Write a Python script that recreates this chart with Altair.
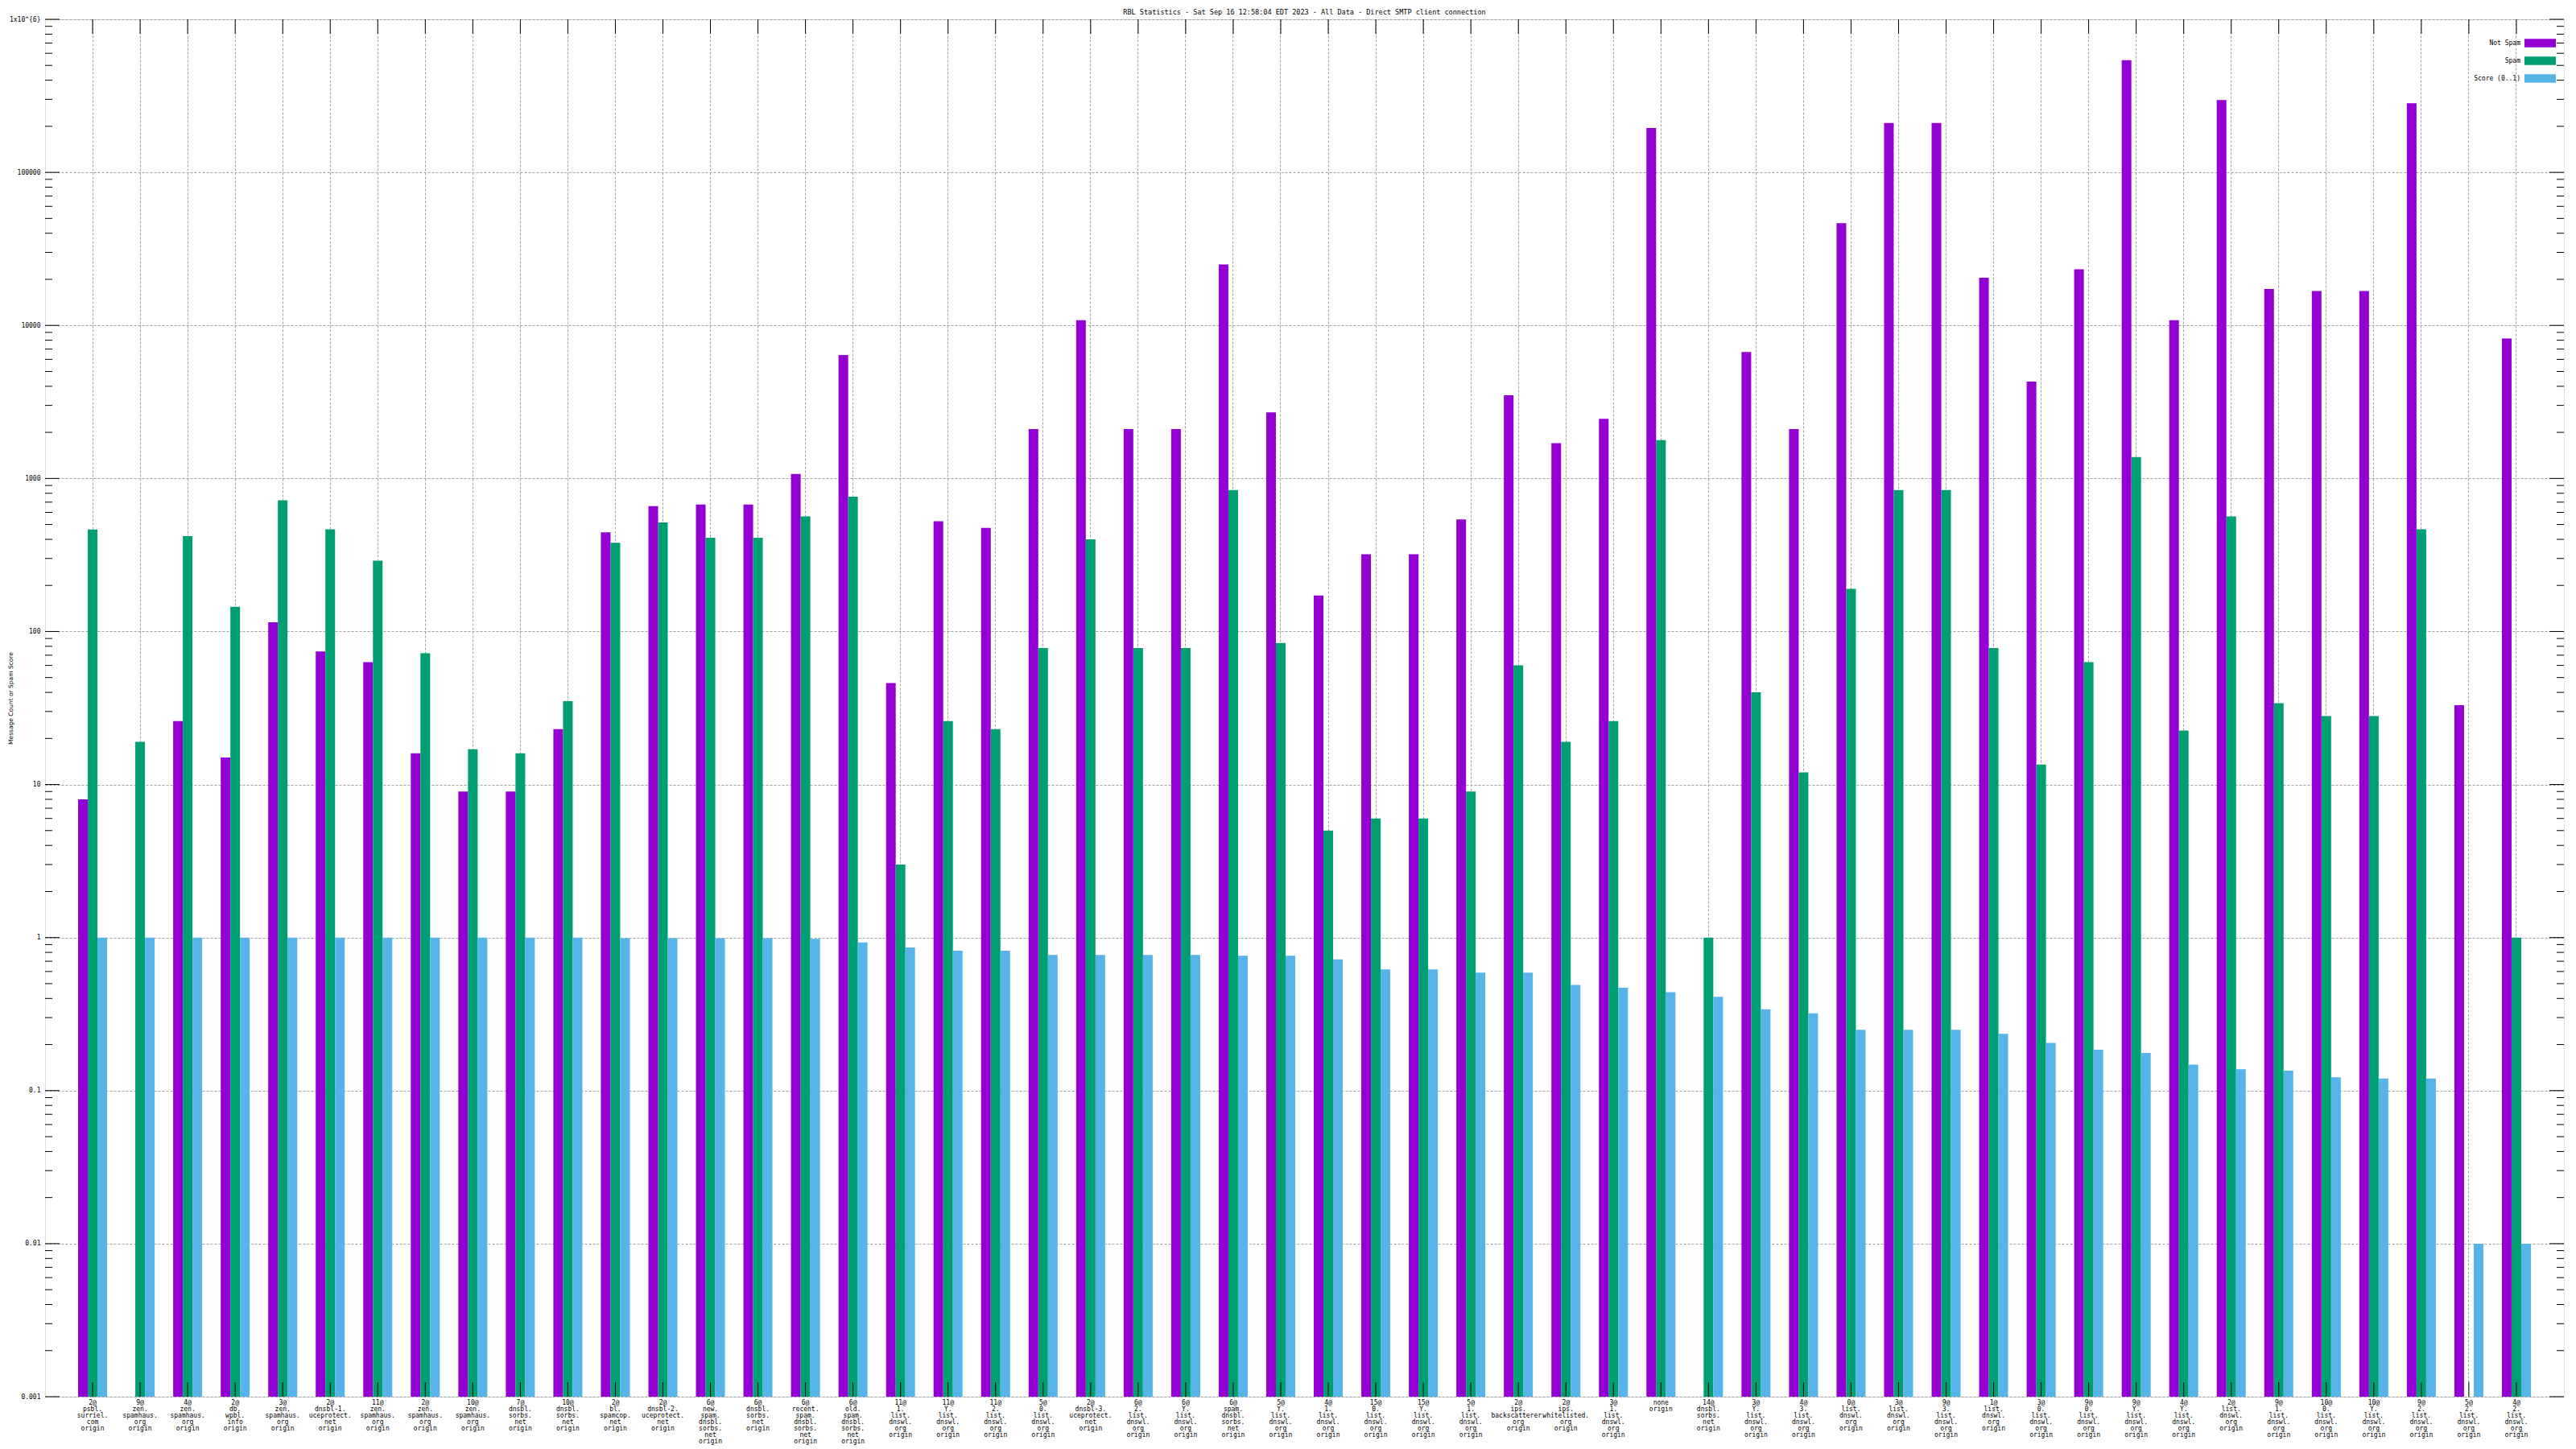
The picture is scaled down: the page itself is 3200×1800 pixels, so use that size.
import json
import altair as alt
import pandas as pd

title_text = "RBL Statistics - Sat Sep 16 12:58:04 EDT 2023 - All Data - Direct SMTP client connection"
y_title = "Message Count or Spam Score"

categories = [
    "2@|psbl.|surriel.|com|origin", "9@|zen.|spamhaus.|org|origin", "4@|zen.|spamhaus.|org|origin",
    "2@|db.|wpbl.|info|origin", "3@|zen.|spamhaus.|org|origin", "2@|dnsbl-1.|uceprotect.|net|origin",
    "11@|zen.|spamhaus.|org|origin", "2@|zen.|spamhaus.|org|origin", "10@|zen.|spamhaus.|org|origin",
    "7@|dnsbl.|sorbs.|net|origin", "10@|dnsbl.|sorbs.|net|origin", "2@|bl.|spamcop.|net|origin",
    "2@|dnsbl-2.|uceprotect.|net|origin", "6@|new.|spam.|dnsbl.|sorbs.|net|origin", "6@|dnsbl.|sorbs.|net|origin",
    "6@|recent.|spam.|dnsbl.|sorbs.|net|origin", "6@|old.|spam.|dnsbl.|sorbs.|net|origin",
    "11@|1.|list.|dnswl.|org|origin", "11@|Y.|list.|dnswl.|org|origin", "11@|2.|list.|dnswl.|org|origin",
    "5@|0.|list.|dnswl.|org|origin", "2@|dnsbl-3.|uceprotect.|net|origin", "6@|2.|list.|dnswl.|org|origin",
    "6@|Y.|list.|dnswl.|org|origin", "6@|spam.|dnsbl.|sorbs.|net|origin", "5@|Y.|list.|dnswl.|org|origin",
    "4@|1.|list.|dnswl.|org|origin", "15@|0.|list.|dnswl.|org|origin", "15@|Y.|list.|dnswl.|org|origin",
    "5@|1.|list.|dnswl.|org|origin", "2@|ips.|backscatterer.|org|origin", "2@|ips.|whitelisted.|org|origin",
    "3@|1.|list.|dnswl.|org|origin", "none|origin", "14@|dnsbl.|sorbs.|net|origin",
    "3@|Y.|list.|dnswl.|org|origin", "4@|3.|list.|dnswl.|org|origin", "0@|list.|dnswl.|org|origin",
    "3@|list.|dnswl.|org|origin", "9@|3.|list.|dnswl.|org|origin", "1@|list.|dnswl.|org|origin",
    "3@|0.|list.|dnswl.|org|origin", "9@|0.|list.|dnswl.|org|origin", "9@|Y.|list.|dnswl.|org|origin",
    "4@|Y.|list.|dnswl.|org|origin", "2@|list.|dnswl.|org|origin", "9@|1.|list.|dnswl.|org|origin",
    "10@|0.|list.|dnswl.|org|origin", "10@|Y.|list.|dnswl.|org|origin", "9@|2.|list.|dnswl.|org|origin",
    "5@|2.|list.|dnswl.|org|origin", "4@|2.|list.|dnswl.|org|origin",
]

not_spam = [8, None, 26, 15, 115, 74, 63, 16, 9, 9, 23, 445, 660, 675, 675, 1070, 6400, 46, 525, 475,
            2100, 10800, 2100, 2100, 25000, 2700, 172, 320, 320, 540, 3500, 1700, 2450, 195000, None, 6700,
            2100, 46500, 210000, 210000, 20500, 4300, 23300, 540000, 10800, 297000, 17300, 16800, 16800,
            283000, 33, 8200]

spam = [464, 19, 420, 145, 720, 465, 290, 72, 17, 16, 35, 380, 515, 410, 410, 565, 760, 3, 26, 23,
        78, 400, 78, 78, 840, 84, 5, 6, 6, 9, 60, 19, 26, 1780, 1, 40, 12, 190, 840, 840, 78, 13.5, 63,
        1380, 22.5, 565, 34, 28, 28, 465, None, 1]

score = [1, 1, 1, 1, 1, 1, 1, 1, 1, 1, 1, 0.99, 0.99, 0.99, 0.99, 0.98, 0.93, 0.86, 0.82, 0.82,
         0.77, 0.77, 0.77, 0.77, 0.76, 0.76, 0.72, 0.62, 0.62, 0.59, 0.59, 0.49, 0.47, 0.44, 0.41,
         0.34, 0.32, 0.25, 0.25, 0.25, 0.235, 0.205, 0.185, 0.176, 0.148, 0.138, 0.135, 0.122, 0.12,
         0.12, 0.01, 0.01]

series_names = ["Not Spam", "Spam", "Score (0..1)"]
series_colors = ["#9400d3", "#009e73", "#56b4e9"]

ytick_values = [0.001, 0.01, 0.1, 1, 10, 100, 1000, 10000, 100000, 1000000]
ytick_labels = ["0.001", "0.01", "0.1", "1", "10", "100", "1000", "10000", "100000", "1x10^{6}"]

FONT = "DejaVu Sans Mono"
W, H = 3129, 1711
GRID = "#a0a0a0"

rows = []
for i, cat in enumerate(categories):
    for name, vals in zip(series_names, [not_spam, spam, score]):
        v = vals[i]
        if v is not None:
            rows.append({"cat": cat, "series": name, "value": v})
df = pd.DataFrame(rows)

major_df = pd.DataFrame({"value": ytick_values})
minor_df = pd.DataFrame({"value": [d * k for d in ytick_values[:-1] for k in range(2, 10)]})
cat_df = pd.DataFrame({"cat": categories})

xscale = alt.Scale(domain=categories, paddingInner=0.39, paddingOuter=0.695)
yscale = alt.Scale(type="log", domain=[0.001, 1000000], nice=False)

ylabel_expr = " : ".join(
    [f"datum.value == {json.dumps(v)} ? '{l}'" for v, l in zip(ytick_values, ytick_labels)]
) + " : ''"

xaxis = alt.Axis(
    orient="bottom", title=None, labelExpr="split(datum.value, '|')", labelAngle=0,
    labelFont=FONT, labelFontSize=8, labelLineHeight=8, labelPadding=3, labelBaseline="top",
    labelOverlap=False, labelBound=False, labelLimit=0, labelColor="black",
    ticks=False, domain=False, grid=True, gridDash=[3, 2], gridColor=GRID, gridWidth=1,
)
yaxis = alt.Axis(
    values=ytick_values, labelExpr=ylabel_expr, labelFont=FONT, labelFontSize=8, labelPadding=6,
    labelColor="black", labelOverlap=False, ticks=False, domain=False, grid=True, gridDash=[3, 2],
    gridColor=GRID, gridWidth=1, title=y_title, titleFont="DejaVu Sans", titleFontSize=7.5,
    titleFontWeight="normal", titleX=-43, titleY=843, titleAngle=270, titleAlign="center",
    titleBaseline="middle", titleColor="black",
)

legend = alt.Legend(
    orient="none", legendX=3094, legendY=24, title=None,
    symbolType="M-3.545,-0.973H3.545V0.973H-3.545Z", symbolSize=121, symbolStrokeWidth=0,
    symbolOpacity=1, labelAlign="right", labelOffset={"expr": "-30"}, labelFont=FONT,
    labelFontSize=8, labelColor="black", rowPadding=11, padding=0,
)

bars = alt.Chart(df).mark_bar().encode(
    x=alt.X("cat:N", scale=xscale, sort=categories, axis=xaxis),
    xOffset=alt.XOffset("series:N", scale=alt.Scale(domain=series_names), sort=series_names),
    y=alt.Y("value:Q", scale=yscale, axis=yaxis),
    y2=alt.datum(0.001),
    color=alt.Color("series:N", scale=alt.Scale(domain=series_names, range=series_colors),
                    sort=series_names, legend=legend),
)

def yrule(data, x0, x1):
    return alt.Chart(data).mark_rule(color="black", strokeWidth=1).encode(
        y=alt.Y("value:Q", scale=yscale, axis=yaxis), x=alt.value(x0), x2=alt.value(x1))

def xrule(y0, y1):
    return alt.Chart(cat_df).mark_rule(color="black", strokeWidth=1).encode(
        x=alt.X("cat:N", scale=xscale, sort=categories, axis=xaxis), y=alt.value(y0), y2=alt.value(y1))

chart = alt.layer(
    bars,
    xrule(H - 18, H),
    yrule(major_df, 0, 18), yrule(minor_df, 0, 9),
    yrule(major_df, W - 18, W), yrule(minor_df, W - 9, W),
    xrule(0, 18),
).properties(
    width=W, height=H,
    title=alt.TitleParams(text=title_text, font=FONT, fontSize=8.5, fontWeight="normal",
                          anchor="middle", offset=1, frame="group", color="black"),
    autosize=alt.AutoSizeParams(type="none"),
    padding={"left": 48, "top": 16, "right": 5, "bottom": 60},
).configure_view(stroke="black", strokeWidth=1).configure(background="white")

chart.save("out.html", embed_options={"renderer": "svg", "actions": False})
